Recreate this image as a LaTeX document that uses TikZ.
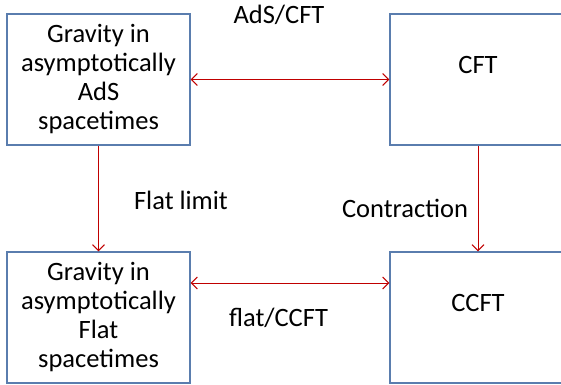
\documentclass[tikz,border=0pt]{standalone}
\usepackage{fontspec}
\setmainfont{Carlito}
\usetikzlibrary{arrows.meta,positioning}
\definecolor{BoxBlue}{HTML}{5A7DAE}
\definecolor{ArrowRed}{HTML}{C00000}

\begin{document}
\begin{tikzpicture}[x=1pt,y=-1pt,
  theory/.style={rectangle,draw=BoxBlue,line width=1.3pt,minimum width=183pt,minimum height=131pt,align=center,font=\fontsize{26.5}{29}\selectfont},
  corr/.style={{Straight Barb[length=6pt,width=12pt]}-{Straight Barb[length=6pt,width=12pt]},line width=1pt,color=ArrowRed},
  lim/.style={-{Straight Barb[length=6pt,width=12pt]},line width=1pt,color=ArrowRed},
  tag/.style={font=\fontsize{26.5}{29}\selectfont}
]
\useasboundingbox (0,0) rectangle (561,384);
\node[theory] (ads) at (98.5,79.5) {Gravity in\\asymptotically\\AdS\\spacetimes};
\node[theory,minimum width=176pt] (cft) at (478,79.5) {};
\node[tag] (cfttext) at (478,65) {CFT};
\node[theory] (flat) at (98.5,317.5) {Gravity in\\asymptotically\\Flat\\spacetimes};
\node[theory,minimum width=176pt] (ccft) at (478,317.5) {};
\node[tag] (ccfttext) at (478,303) {CCFT};
\draw[corr] (ads) -- (cft);
\draw[corr] ([yshift=34.5pt]flat.east) -- ([yshift=34.5pt]ccft.west);
\draw[lim] (ads) -- (flat);
\draw[lim] (cft) -- (ccft);
\node[tag] (adscft) at (279,15) {AdS/CFT};
\node[tag] (flatlim) at (181,200) {Flat limit};
\node[tag] (contr) at (405,208) {Contraction};
\node[tag] (flatccft) at (278.5,318) {flat/CCFT};
\end{tikzpicture}
\end{document}
